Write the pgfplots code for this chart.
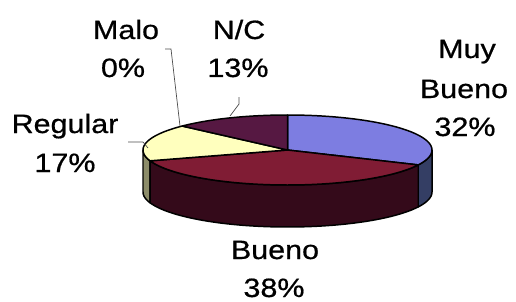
\documentclass[border=0pt]{standalone}
\usepackage{pgfplots}
\pgfplotsset{compat=1.18}
\usepackage{graphicx}
\usepackage{fontspec}
\setmainfont{Liberation Sans}[BoldFont=Liberation Sans, BoldFeatures={FakeBold=0.6}]
\definecolor{cMB}{RGB}{125,125,225}
\definecolor{cMBs}{RGB}{52,62,100}
\definecolor{cB}{RGB}{128,28,52}
\definecolor{cBs}{RGB}{52,10,26}
\definecolor{cR}{RGB}{255,255,190}
\definecolor{cRs}{RGB}{140,140,105}
\definecolor{cNC}{RGB}{86,24,66}
\newcommand{\topslice}[3]{%
  \addplot[fill=#3, draw=black, line width=1.5pt, line join=round, domain=#1:#2, samples=60]
    ({287.5+144.5*cos(x)},{150-35*sin(x)}) -- (axis cs:287.5,150) -- cycle;}
\newcommand{\sideslice}[3]{%
  \addplot[fill=#3, draw=black, line width=1.5pt, line join=round,
    samples at={0,1,...,50,50.0001,51,52,...,100}]
    ({287.5+144.5*cos(#1+(#2-#1)*(x-2*max(x-50,0))/50)},
     {150-35*sin(#1+(#2-#1)*(x-2*max(x-50,0))/50)+42*(x>50)}) -- cycle;}
\newcommand{\lab}[3]{\node[anchor=base, inner sep=0pt] at (axis cs:#1,#2)
  {\fontsize{26.6}{32}\selectfont\bfseries\scalebox{1.15}[1]{#3}};}
\begin{document}
\begin{tikzpicture}
% percentages: Muy Bueno 32, Bueno 38, Regular 17, Malo 0, N/C 13
\pgfmathsetmacro{\aA}{90}
\pgfmathsetmacro{\aB}{\aA-32*3.6}
\pgfmathsetmacro{\aC}{\aB-38*3.6}
\pgfmathsetmacro{\aD}{\aC-17*3.6}
\pgfmathsetmacro{\aE}{\aD-0*3.6}
\pgfmathsetmacro{\aF}{\aE-13*3.6}
\path[use as bounding box] (0,0) rectangle (516bp,302bp);
\begin{axis}[at={(0,0)}, anchor=south west, width=516bp, height=302bp, scale only axis,
  xmin=0, xmax=516, ymin=0, ymax=302, y dir=reverse, hide axis, clip=false]
\sideslice{\aB}{0}{cMBs}
\sideslice{-180}{\aC}{cRs}
\sideslice{\aC}{\aB}{cBs}
\topslice{\aB}{\aA}{cMB}
\topslice{\aC}{\aB}{cB}
\topslice{\aD}{\aC}{cR}
\topslice{\aF}{\aE}{cNC}
\addplot[gray!60!black, line width=0.7pt] coordinates {(165,49) (171,49) (180,126)};
\addplot[gray!60!black, line width=0.7pt] coordinates {(239,97) (239,104) (230,116)};
\addplot[gray!60!black, line width=0.7pt] coordinates {(128,142) (143,142) (148,148)};
\lab{126}{39}{Malo}
\lab{123}{77}{0\%}
\lab{239}{39}{N/C}
\lab{238}{77}{13\%}
\lab{467}{58}{Muy}
\lab{464}{98}{Bueno}
\lab{465}{136}{32\%}
\lab{65}{133}{Regular}
\lab{65}{172}{17\%}
\lab{275}{259}{Bueno}
\lab{274}{297}{38\%}
\end{axis}
\end{tikzpicture}
\end{document}
